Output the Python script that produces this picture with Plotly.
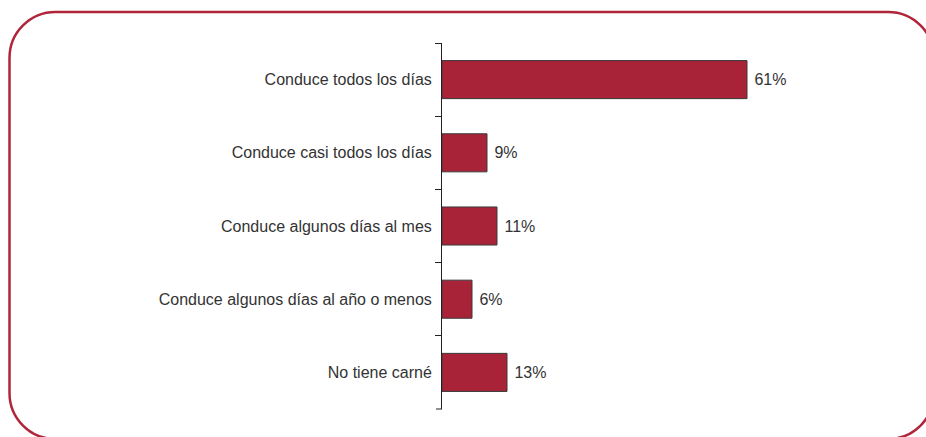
import plotly.graph_objects as go

categories = ["Conduce todos los días", "Conduce casi todos los días",
              "Conduce algunos días al mes", "Conduce algunos días al año o menos",
              "No tiene carné"]
values = [61, 9, 11, 6, 13]

W, H = 926, 437
L, R, T, B = 442, 842, 43, 409   # plot area in pixels
XMAX = 80


def px(x):
    return (x - L) / (R - L)


def py(y):
    return (B - y) / (B - T)


def rounded_rect(x0, y0, x1, y1, r):
    k = 0.5523 * r
    pts = [
        ("M", [(x0 + r, y0)]),
        ("L", [(x1 - r, y0)]),
        ("C", [(x1 - r + k, y0), (x1, y0 + r - k), (x1, y0 + r)]),
        ("L", [(x1, y1 - r)]),
        ("C", [(x1, y1 - r + k), (x1 - r + k, y1), (x1 - r, y1)]),
        ("L", [(x0 + r, y1)]),
        ("C", [(x0 + r - k, y1), (x0, y1 - r + k), (x0, y1 - r)]),
        ("L", [(x0, y0 + r)]),
        ("C", [(x0, y0 + r - k), (x0 + r - k, y0), (x0 + r, y0)]),
    ]
    s = ""
    for cmd, ps in pts:
        s += cmd + " ".join("%.5f,%.5f" % (px(a), py(b)) for a, b in ps) + " "
    return s + "Z"


fig = go.Figure(go.Bar(
    x=values, y=categories, orientation="h",
    marker=dict(color="#A82337", line=dict(color="#3a3a3a", width=1)),
    width=0.52,
    text=[f"\u00a0{v}%" for v in values], textposition="outside",
    textfont=dict(size=16, color="#333333"),
    cliponaxis=False,
))

fig.update_layout(
    width=W, height=H,
    margin=dict(l=L, r=W - R, t=T, b=H - B),
    paper_bgcolor="white", plot_bgcolor="white",
    font=dict(family="Liberation Sans, Arial, sans-serif", color="#333333", size=16),
    showlegend=False,
    xaxis=dict(range=[0, XMAX], visible=False),
    yaxis=dict(autorange="reversed", showline=True, linecolor="#222222", linewidth=1,
               ticks="outside", tickson="boundaries", ticklen=6, tickcolor="#222222",
               tickwidth=1, ticklabelstandoff=6,
               showgrid=False, tickfont=dict(size=16, color="#333333")),
    shapes=[
        dict(type="path", xref="paper", yref="paper",
             path=rounded_rect(9.5, 12, 934, 439, 46),
             line=dict(color="#B0253A", width=2.5), layer="above"),
        # closing tick at the bottom end of the axis
        dict(type="line", xref="paper", yref="paper", x0=px(436), x1=0, y0=0, y1=0,
             line=dict(color="#222222", width=1)),
    ],
)

fig.write_html("out.html", config={"displayModeBar": False},
               post_script="document.body.style.margin='0';document.body.style.overflow='hidden';")
